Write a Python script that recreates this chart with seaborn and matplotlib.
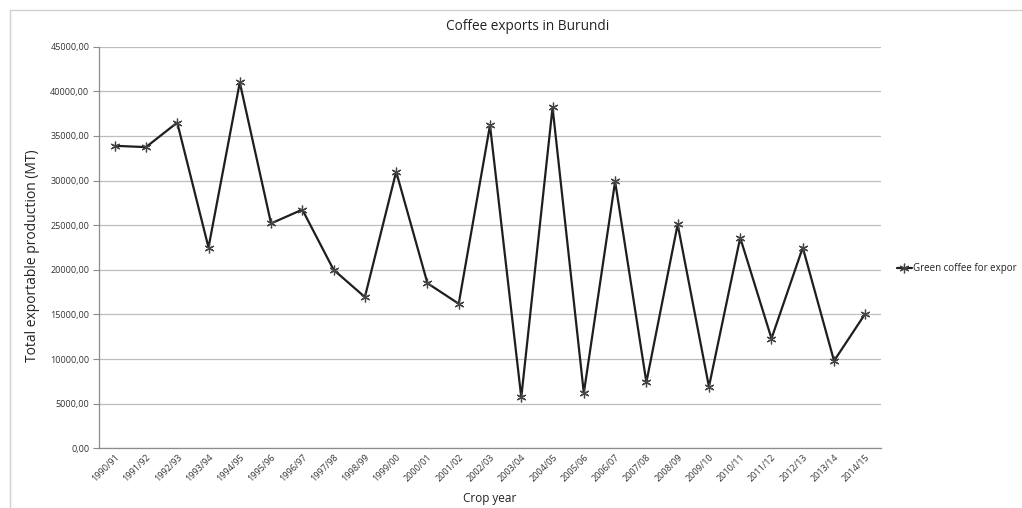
import matplotlib
matplotlib.use("Agg")
import matplotlib.pyplot as plt
from matplotlib.patches import Rectangle
from matplotlib.ticker import FuncFormatter, MultipleLocator
import seaborn as sns
import pandas as pd

crop_years = ["1990/91", "1991/92", "1992/93", "1993/94", "1994/95", "1995/96",
              "1996/97", "1997/98", "1998/99", "1999/00", "2000/01", "2001/02",
              "2002/03", "2003/04", "2004/05", "2005/06", "2006/07", "2007/08",
              "2008/09", "2009/10", "2010/11", "2011/12", "2012/13", "2013/14",
              "2014/15"]
green_coffee = [33900, 33750, 36500, 22500, 41000, 25200, 26750, 20000, 16950,
                31000, 18500, 16200, 36200, 5700, 38200, 6200, 29900, 7400,
                25100, 6900, 23600, 12300, 22500, 9800, 15100]
series_name = "Green coffee for expor"
title = "Coffee exports in Burundi"
x_label = "Crop year"
y_label = "Total exportable production (MT)"

sns.set_theme(style="white")
plt.rcParams['font.family'] = ['Open Sans', 'DejaVu Sans']

df = pd.DataFrame({"pos": range(len(crop_years)), "value": green_coffee})

fig = plt.figure(figsize=(10.22, 5.08), dpi=100)
ax = fig.add_axes([0.0969, 0.1175, 0.862 - 0.0969, 0.908 - 0.1175])

sns.lineplot(data=df, x="pos", y="value", ax=ax, color="#1e1e1e", linewidth=1.6,
             marker=(6, 2, 0), markersize=7, markeredgecolor="#444444",
             markeredgewidth=0.9, label=series_name, zorder=3)

ax.set_xlim(-0.5, len(crop_years) - 0.5)
ax.set_ylim(0, 45000)
ax.yaxis.set_major_locator(MultipleLocator(5000))
ax.yaxis.set_major_formatter(FuncFormatter(lambda v, p: f"{v:.2f}".replace(".", ",")))
ax.set_xticks(range(len(crop_years)))
ax.set_xticklabels(crop_years, rotation=45, ha="right", rotation_mode="anchor",
                   fontsize=6.5, color="#333333")
for lbl in ax.get_yticklabels():
    lbl.set_fontsize(6.5)
    lbl.set_color("#333333")

ax.grid(axis="y", color="#bdbdbd", linewidth=0.9)
ax.grid(axis="x", visible=False)
for s in ["top", "right"]:
    ax.spines[s].set_visible(False)
for s in ["left", "bottom"]:
    ax.spines[s].set_color("#8c8c8c")
    ax.spines[s].set_linewidth(0.9)
ax.tick_params(axis="y", which="major", length=4, width=0.8, color="#8c8c8c", pad=3, left=True)
ax.tick_params(axis="x", length=0, pad=3)

ax.set_xlabel(x_label, fontsize=8.5, color="#222222", labelpad=6)
ax.set_ylabel(y_label, fontsize=10, color="#222222")
ax.yaxis.set_label_coords(-0.075, 0.48)
fig.text(528 / 1022, 1 - 27 / 508, title, ha="center", va="center", fontsize=9.8, color="#222222")

ax.legend(loc="center left", bbox_to_anchor=(0.873, 1 - 269 / 508), bbox_transform=fig.transFigure,
          frameon=False, handlelength=1.5, handletextpad=0.1, borderpad=0, fontsize=7.0,
          labelcolor="#222222")

fig.patches.append(Rectangle((10 / 1022, -0.1), 1.2, 0.1 + (508 - 10) / 508,
                             transform=fig.transFigure, fill=False,
                             edgecolor="#d0d0d0", linewidth=1.0))

fig.savefig("out.png", dpi=100, facecolor="white")
